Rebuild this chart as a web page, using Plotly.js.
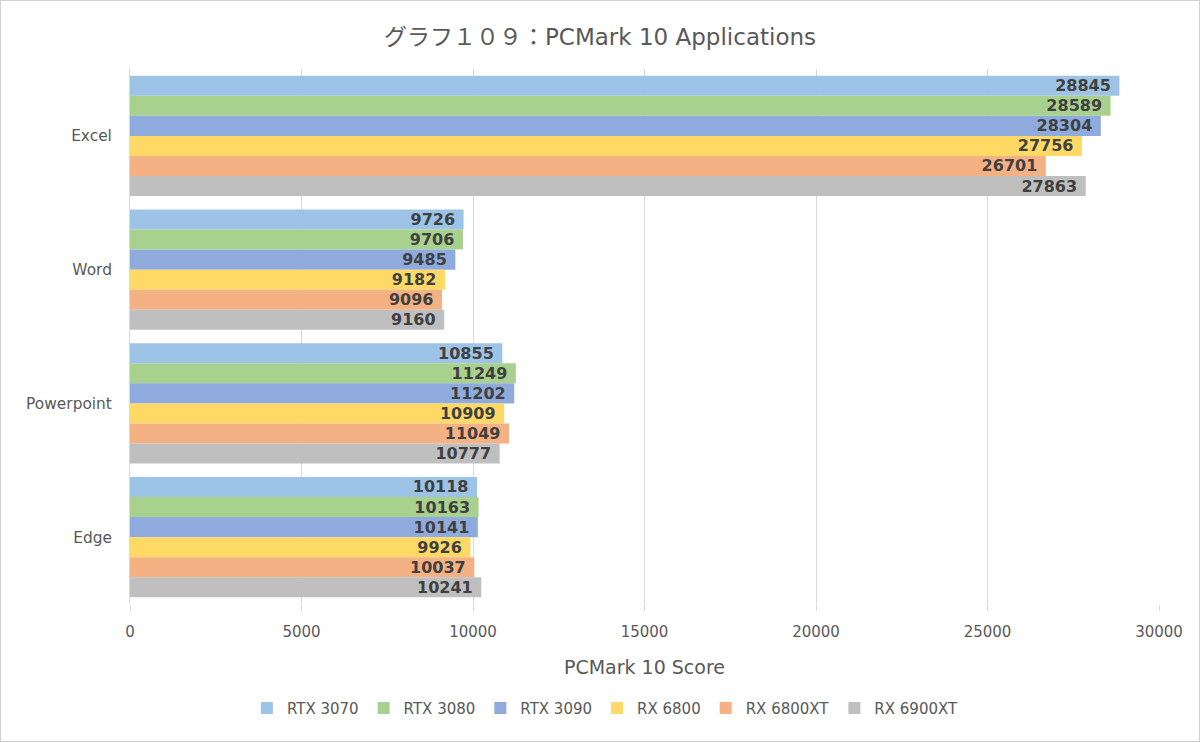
<!DOCTYPE html>
<html>
<head>
<meta charset="utf-8">
<script src="https://cdn.plot.ly/plotly-3.0.1.min.js"></script>
<style>
html,body{margin:0;padding:0;background:#fff;}
#chart{width:1200px;height:742px;box-sizing:border-box;border:1px solid #d0d0d0;}
</style>
</head>
<body>
<div id="chart"></div>
<script>
const categories = ["Excel", "Word", "Powerpoint", "Edge"];
const seriesNames = ["RTX 3070", "RTX 3080", "RTX 3090", "RX 6800", "RX 6800XT", "RX 6900XT"];
const rtx3070 = [28845, 9726, 10855, 10118];
const rtx3080 = [28589, 9706, 11249, 10163];
const rtx3090 = [28304, 9485, 11202, 10141];
const rx6800 = [27756, 9182, 10909, 9926];
const rx6800xt = [26701, 9096, 11049, 10037];
const rx6900xt = [27863, 9160, 10777, 10241];
const seriesValues = [rtx3070, rtx3080, rtx3090, rx6800, rx6800xt, rx6900xt];
const colors = ["#9DC3E6", "#A9D18E", "#8FAADC", "#FFD966", "#F4B183", "#BFBFBF"];

const fam = '"DejaVu Sans", "Noto Sans CJK JP", sans-serif';

const traces = seriesNames.map((name, i) => ({
  type: 'bar',
  orientation: 'h',
  name: name,
  y: categories,
  x: seriesValues[i],
  marker: {color: colors[i]},
  text: seriesValues[i].map(v => String(v) + '\u00A0'),
  textposition: 'inside',
  insidetextanchor: 'end',
  constraintext: 'none',
  textangle: 0,
  textfont: {family: '"DejaVu Sans", Verdana, sans-serif', size: 16, color: '#404040', weight: 'bold'},
  hoverinfo: 'x+name'
}));

const layout = {
  width: 1198, height: 740,
  margin: {l: 129, r: 40, t: 68, b: 137},
  paper_bgcolor: '#fff', plot_bgcolor: '#fff',
  barmode: 'group',
  bargap: 0.1,
  bargroupgap: 0,
  title: {text: 'グラフ１０９：PCMark 10 Applications', font: {family: fam, size: 23, color: '#595959'}, x: 0.5, xanchor: 'center', y: 0.952, yanchor: 'middle'},
  xaxis: {
    range: [0, 30000], dtick: 5000, tick0: 0, tickformat: 'd',
    showgrid: true, gridcolor: '#d9d9d9', gridwidth: 1,
    zeroline: false, showline: false,
    ticks: 'outside', ticklen: 6, tickcolor: '#d9d9d9',
    ticklabelstandoff: 8,
    tickfont: {family: fam, size: 15, color: '#595959'},
    title: {text: 'PCMark 10 Score', font: {family: fam, size: 19, color: '#595959'}, standoff: 20}
  },
  yaxis: {
    autorange: 'reversed',
    showline: true, linecolor: '#d9d9d9', linewidth: 1,
    showgrid: false, ticks: '',
    ticklabelstandoff: 14,
    tickfont: {family: fam, size: 15.4, color: '#595959'}
  },
  legend: {
    orientation: 'h', x: 0.462, xanchor: 'center', y: -0.195, yanchor: 'middle',
    font: {family: fam, size: 15, color: '#595959'},
    traceorder: 'normal', itemwidth: 30
  },
  showlegend: true
};

Plotly.newPlot('chart', traces, layout, {displayModeBar: false, responsive: false});
</script>
</body>
</html>
